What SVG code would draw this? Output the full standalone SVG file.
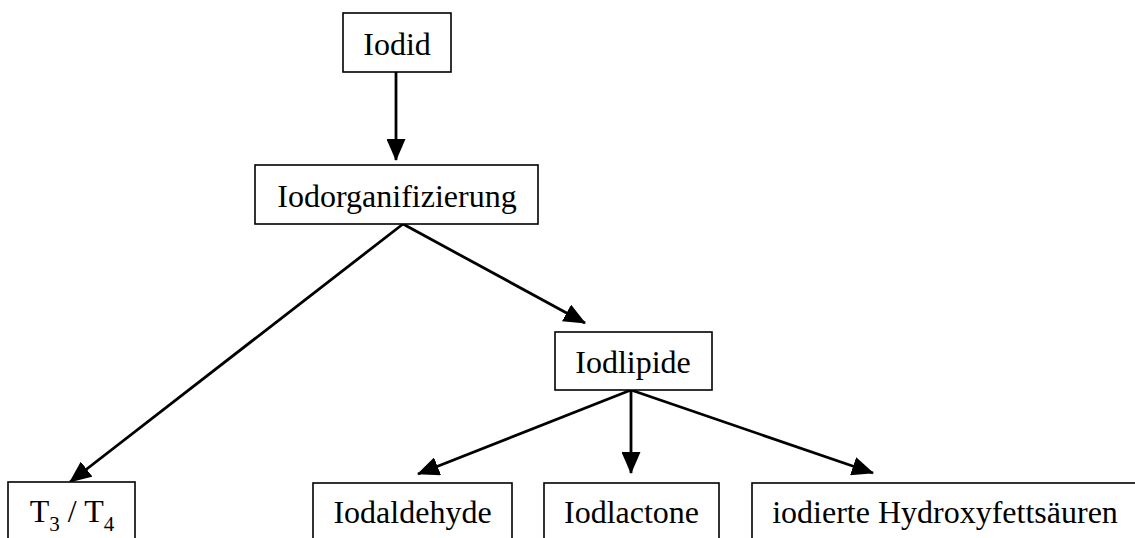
<svg xmlns="http://www.w3.org/2000/svg" width="1135" height="538" viewBox="0 0 1135 538">
<style>
.box{fill:#fff;stroke:#000;stroke-width:1.6}
.t{font-family:"Liberation Serif","Times New Roman",serif;font-size:32px;fill:#000;text-anchor:middle}
.c{fill:none;stroke:#000;stroke-width:2.8}
</style>
<defs>
<marker id="ah" markerUnits="userSpaceOnUse" markerWidth="22" markerHeight="19" refX="21" refY="9.5" orient="auto" viewBox="0 0 22 19">
<path d="M0,0 L22,9.5 L0,19 z" fill="#000"/>
</marker>
</defs>
<rect width="1135" height="538" fill="#fff"/>
<g id="connectors">
<line class="c" x1="396" y1="72" x2="396" y2="160" marker-end="url(#ah)"/>
<line class="c" x1="403" y1="224" x2="70" y2="482" marker-end="url(#ah)"/>
<line class="c" x1="403" y1="224" x2="585" y2="323" marker-end="url(#ah)"/>
<line class="c" x1="631" y1="390" x2="631" y2="473" marker-end="url(#ah)"/>
<line class="c" x1="631" y1="390" x2="418" y2="474" marker-end="url(#ah)"/>
<line class="c" x1="631" y1="390" x2="873" y2="473" marker-end="url(#ah)"/>
</g>
<g id="iodid">
<rect class="box" x="343" y="13" width="108" height="59"/>
<text class="t" x="397" y="55">Iodid</text>
</g>
<g id="iodorganifizierung">
<rect class="box" x="255" y="165" width="283" height="59"/>
<text class="t" x="397" y="207">Iodorganifizierung</text>
</g>
<g id="iodlipide">
<rect class="box" x="555" y="332" width="157" height="58"/>
<text class="t" x="633" y="373">Iodlipide</text>
</g>
<g id="t3t4">
<rect class="box" x="8" y="482" width="127" height="70"/>
<text class="t" x="72" y="522">T<tspan font-size="21" dy="9">3</tspan><tspan dy="-9"> / T</tspan><tspan font-size="21" dy="9">4</tspan></text>
</g>
<g id="iodaldehyde">
<rect class="box" x="313" y="483" width="199" height="70"/>
<text class="t" x="412.5" y="523">Iodaldehyde</text>
</g>
<g id="iodlactone">
<rect class="box" x="544" y="483" width="175" height="70"/>
<text class="t" x="631.5" y="523">Iodlactone</text>
</g>
<g id="hydroxyfettsaeuren">
<rect class="box" x="752" y="483" width="400" height="70"/>
<text class="t" x="945" y="523">iodierte Hydroxyfettsäuren</text>
</g>
</svg>
